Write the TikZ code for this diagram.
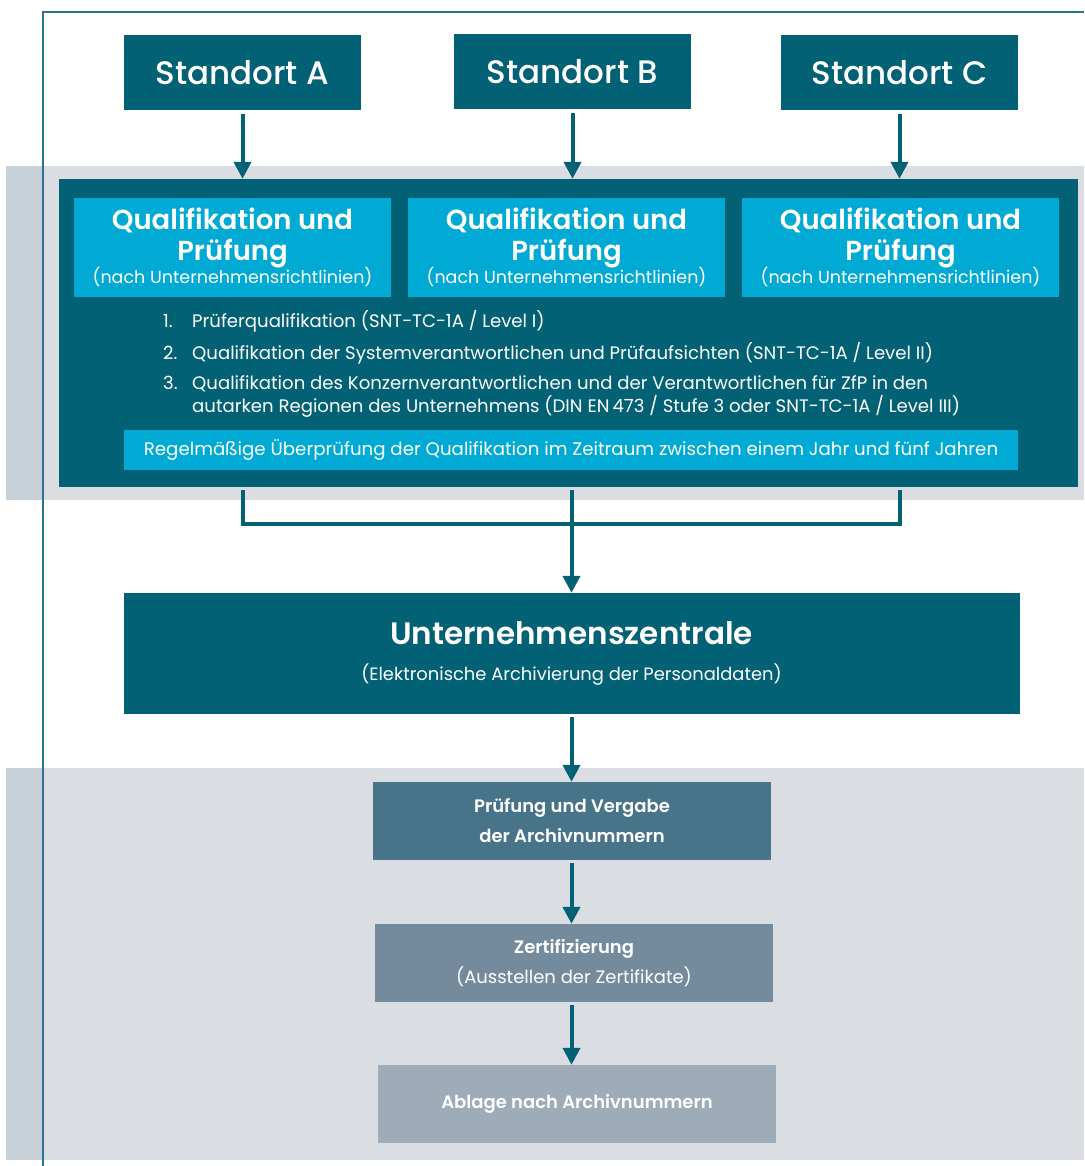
\documentclass[tikz,border=0pt]{standalone}
\usepackage{fontspec}
\setmainfont{Poppins}
\newfontfamily\medfont{Poppins Medium}
\newfontfamily\semifont{Poppins SemiBold}
\usepackage{tikz}
\usetikzlibrary{arrows.meta,calc}

\definecolor{darkteal}{HTML}{026174}
\definecolor{qcyan}{HTML}{00AAD4}
\definecolor{bandgray}{HTML}{DADEE3}
\definecolor{banddark}{HTML}{C8D0D8}
\definecolor{framecol}{HTML}{2B7489}
\definecolor{stepone}{HTML}{487489}
\definecolor{steptwo}{HTML}{748B9E}
\definecolor{stepthree}{HTML}{9EABB8}

\begin{document}
\begin{tikzpicture}[x=1pt,y=-1pt,>={Triangle[width=17pt,length=17pt]},
  sitebox/.style={fill=darkteal,text=white,minimum width=237pt,minimum height=75pt,inner sep=0pt,font=\medfont\fontsize{32.5}{36}\selectfont},
  qualbox/.style={fill=qcyan,text=white,minimum width=317pt,minimum height=99pt,inner sep=0pt,align=center,font=\semifont\fontsize{27.5}{31}\selectfont},
  stepbox/.style={text=white,minimum width=398pt,minimum height=78pt,inner sep=0pt,align=center,font=\semifont\fontsize{18}{30}\selectfont},
  flow/.style={draw=darkteal,line width=4pt,->},
  link/.style={draw=darkteal,line width=4pt}]
\useasboundingbox (0,0) rectangle (1084,1166);
% background bands and frame
\fill[bandgray] (6,166) rectangle (1084,500);
\fill[banddark] (6,166) rectangle (43,500);
\fill[bandgray] (6,768) rectangle (1084,1160);
\fill[banddark] (6,768) rectangle (43,1160);
\draw[framecol,line width=1.5pt] (1084,12) -- (43,12) -- (43,1166);
% sites
\node[sitebox] (siteA) at (242.5,72.5) {Standort A};
\node[sitebox] (siteB) at (572.5,71.5) {Standort B};
\node[sitebox] (siteC) at (899.5,72.5) {Standort C};
% qualification block
\node[fill=darkteal,minimum width=1019pt,minimum height=308pt,inner sep=0pt] (unit) at (568.5,333) {};
\node[qualbox] (qualA) at (232.5,247.5) {Qualifikation und\\Prüfung\\[-8pt]{\normalfont\fontsize{17.5}{20}\selectfont (nach Unternehmensrichtlinien)}};
\node[qualbox] (qualB) at (566.5,247.5) {Qualifikation und\\Prüfung\\[-8pt]{\normalfont\fontsize{17.5}{20}\selectfont (nach Unternehmensrichtlinien)}};
\node[qualbox] (qualC) at (900.5,247.5) {Qualifikation und\\Prüfung\\[-8pt]{\normalfont\fontsize{17.5}{20}\selectfont (nach Unternehmensrichtlinien)}};
\node[anchor=base west,text=white,inner sep=0pt,font=\fontsize{18.1}{21}\selectfont] (levels) at (163,327) {%
  \begin{tabular}[t]{@{}p{29pt}@{}l@{}}
  1. & Prüferqualifikation (SNT-TC-1A / Level I)\\[9pt]
  2. & Qualifikation der Systemverantwortlichen und Prüfaufsichten (SNT-TC-1A / Level II)\\[9pt]
  3. & Qualifikation des Konzernverantwortlichen und der Verantwortlichen für ZfP in den\\
     & autarken Regionen des Unternehmens (DIN EN\,473 / Stufe 3 oder SNT-TC-1A / Level III)
  \end{tabular}};
\node[fill=qcyan,text=white,minimum width=894pt,minimum height=40pt,inner sep=0pt,font=\fontsize{18.2}{20}\selectfont] (review) at (571,450) {Regelmäßige Überprüfung der Qualifikation im Zeitraum zwischen einem Jahr und fünf Jahren};
% headquarters
\node[fill=darkteal,text=white,minimum width=896pt,minimum height=121pt,inner sep=0pt,align=center,font=\semifont\fontsize{31}{36}\selectfont] (hq) at (571.5,653.5) {Unternehmenszentrale\\{\normalfont\fontsize{17.9}{20}\selectfont (Elektronische Archivierung der Personaldaten)}};
% archive steps
\node[stepbox,fill=stepone] (check) at (572,821) {Prüfung und Vergabe\\der Archivnummern};
\node[stepbox,fill=steptwo] (cert) at (574,963) {Zertifizierung\\{\normalfont (Ausstellen der Zertifikate)}};
\node[stepbox,fill=stepthree] (file) at (577,1104) {Ablage nach Archivnummern};
% connectors
\draw[flow] ([yshift=-4pt]siteA.south) -- (siteA.south |- unit.north);
\draw[flow] ([yshift=-4pt]siteB.south) -- (siteB.south |- unit.north);
\draw[flow] ([yshift=-4pt]siteC.south) -- (siteC.south |- unit.north);
\coordinate (join) at (571.5,524);
\draw[link] ($(unit.south -| siteA)+(0,3)$) |- (join) -| ($(unit.south -| siteC)+(0,3)$);
\draw[flow] ($(unit.south -| hq)+(0,3)$) -- (hq.north);
\draw[flow] ($(hq.south)+(0,3)$) -- (check.north -| hq);
\draw[flow] ($(check.south -| hq)+(0,3)$) -- (cert.north -| hq);
\draw[flow] ($(cert.south -| hq)+(0,3)$) -- (file.north -| hq);
\end{tikzpicture}
\end{document}
